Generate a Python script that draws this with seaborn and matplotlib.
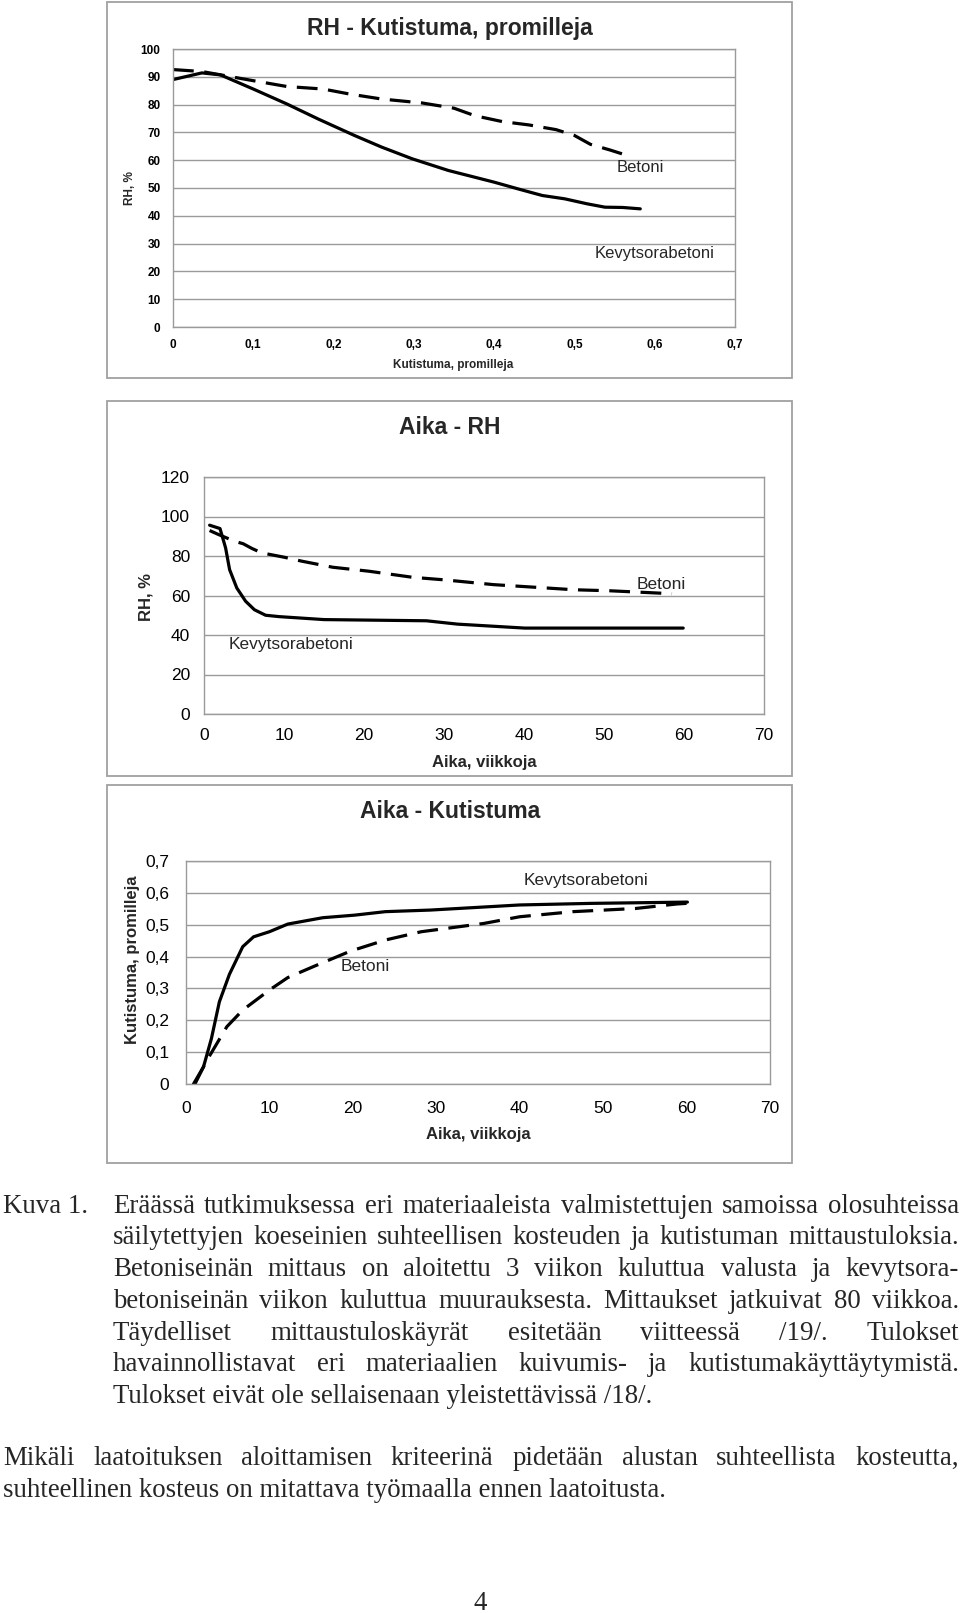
import numpy as np
import pandas as pd
import matplotlib
matplotlib.use('Agg')
import matplotlib.pyplot as plt
import seaborn as sns
from matplotlib.patches import Rectangle

# ---------------- data ----------------
# Panel 1: RH (%) vs shrinkage (promille)
p1_betoni_x = [0.0, 0.036, 0.1, 0.142, 0.187, 0.22, 0.26, 0.31, 0.35, 0.376, 0.41, 0.443, 0.477, 0.5, 0.52, 0.544, 0.569]
p1_betoni_y = [92.6, 91.9, 88.6, 86.5, 85.6, 83.8, 82.0, 80.6, 78.7, 76.0, 73.9, 72.7, 71.0, 68.9, 65.7, 63.7, 61.4]
p1_kevyt_x = [0.0, 0.036, 0.059, 0.1, 0.142, 0.181, 0.226, 0.26, 0.298, 0.343, 0.4, 0.432, 0.46, 0.488, 0.516, 0.538, 0.56, 0.582]
p1_kevyt_y = [89.0, 91.4, 90.7, 85.6, 80.2, 74.8, 68.9, 64.7, 60.5, 56.3, 52.1, 49.5, 47.3, 46.1, 44.3, 43.1, 43.0, 42.5]
p1_xticks = [0, 0.1, 0.2, 0.3, 0.4, 0.5, 0.6, 0.7]
p1_xticklabels = ['0', '0,1', '0,2', '0,3', '0,4', '0,5', '0,6', '0,7']
p1_yticks = [0, 10, 20, 30, 40, 50, 60, 70, 80, 90, 100]

# Panel 2: RH (%) vs time (weeks)
p2_betoni_x = [0.7, 1.8, 3.8, 4.9, 6.0, 7.2, 10.0, 12.2, 16.1, 20.6, 26.1, 30.1, 36.2, 40.1, 46.3, 50.7, 58.5]
p2_betoni_y = [92.9, 90.9, 87.5, 86.2, 83.8, 81.6, 79.4, 77.4, 74.3, 72.3, 69.2, 67.9, 65.5, 64.5, 62.9, 62.4, 60.9]
p2_kevyt_x = [0.7, 2.0, 2.7, 3.2, 4.1, 5.2, 6.3, 7.7, 9.4, 15.0, 27.8, 31.7, 40.1, 59.9]
p2_kevyt_y = [95.6, 93.9, 84.1, 73.1, 63.8, 57.1, 52.8, 50.0, 49.3, 47.8, 47.2, 45.5, 43.5, 43.5]
p2_xticks = [0, 10, 20, 30, 40, 50, 60, 70]
p2_yticks = [0, 20, 40, 60, 80, 100, 120]

# Panel 3: shrinkage (promille) vs time (weeks)
p3_kevyt_x = [0.9, 2.1, 3.05, 4.0, 5.2, 6.8, 8.1, 10.0, 12.2, 16.4, 20.2, 23.9, 29.3, 40.0, 48.6, 60.1]
p3_kevyt_y = [0.0, 0.054, 0.143, 0.258, 0.344, 0.431, 0.462, 0.478, 0.502, 0.522, 0.53, 0.541, 0.546, 0.562, 0.567, 0.571]
p3_betoni_x = [1.07, 2.5, 3.0, 4.9, 6.8, 10.0, 12.2, 15.4, 19.7, 23.9, 28.2, 35.7, 40.0, 46.4, 53.9, 58.8, 60.0]
p3_betoni_y = [0.0, 0.075, 0.096, 0.18, 0.232, 0.295, 0.334, 0.37, 0.417, 0.452, 0.478, 0.504, 0.525, 0.541, 0.551, 0.565, 0.567]
p3_xticks = [0, 10, 20, 30, 40, 50, 60, 70]
p3_yticks = [0, 0.1, 0.2, 0.3, 0.4, 0.5, 0.6, 0.7]
p3_yticklabels = ['0', '0,1', '0,2', '0,3', '0,4', '0,5', '0,6', '0,7']

caption_lines = [
    "Eräässä tutkimuksessa eri materiaaleista valmistettujen samoissa olosuhteissa",
    "säilytettyjen koeseinien suhteellisen kosteuden ja kutistuman mittaustuloksia.",
    "Betoniseinän mittaus on aloitettu 3 viikon kuluttua valusta ja kevytsora-",
    "betoniseinän viikon kuluttua muurauksesta. Mittaukset jatkuivat 80 viikkoa.",
    "Täydelliset mittaustuloskäyrät esitetään viitteessä /19/. Tulokset",
    "havainnollistavat eri materiaalien kuivumis- ja kutistumakäyttäytymistä.",
    "Tulokset eivät ole sellaisenaan yleistettävissä /18/.",
]
para2_lines = [
    "Mikäli laatoituksen aloittamisen kriteerinä pidetään alustan suhteellista kosteutta,",
    "suhteellinen kosteus on mitattava työmaalla ennen laatoitusta.",
]

# ---------------- style ----------------
sns.set_theme(style='white')
plt.rcParams['font.family'] = ['Liberation Sans', 'DejaVu Sans']
SANS = ['Liberation Sans', 'DejaVu Sans']
SERIF = ['Liberation Serif', 'DejaVu Serif']

W, H = 960, 1613
fig = plt.figure(figsize=(W / 100, H / 100), dpi=100)
fig.patch.set_facecolor('white')


def px_ax(x0, y0, x1, y1):
    return fig.add_axes([x0 / W, 1 - y1 / H, (x1 - x0) / W, (y1 - y0) / H])


def ftext(x, y, s, **kw):
    return fig.text(x / W, 1 - y / H, s, **kw)


def frame(y0, y1, x0=107, x1=792):
    fig.patches.append(Rectangle((x0 / W, 1 - y1 / H), (x1 - x0) / W, (y1 - y0) / H,
                                 transform=fig.transFigure, fill=False,
                                 edgecolor='#a0a0a0', lw=1.3, zorder=0))


LW = 2.3
DASH = (0, (6.5, 3.3))
GRID = '#9a9a9a'


def style_ax(ax, xlim, ylim, xticks, yticks, xlabels=None, ylabels=None,
             tick_size=12, bold=False, pad=4):
    ax.set_xlim(*xlim)
    ax.set_ylim(*ylim)
    ax.set_xticks(xticks)
    ax.set_yticks(yticks)
    ax.set_xticklabels(xlabels if xlabels else [str(v) for v in xticks])
    ax.set_yticklabels(ylabels if ylabels else [str(v) for v in yticks])
    for lab in ax.get_xticklabels() + ax.get_yticklabels():
        lab.set_fontsize(tick_size)
        lab.set_family(SANS)
        lab.set_fontweight('bold' if bold else 'normal')
        lab.set_color('black')
    ax.yaxis.grid(True, color=GRID, lw=1.0)
    ax.xaxis.grid(False)
    for sp in ax.spines.values():
        sp.set_color(GRID)
        sp.set_linewidth(1.0)
    ax.tick_params(axis='both', which='major', direction='out', length=4,
                   width=1.0, color=GRID, pad=pad)
    ax.set_xlabel('')
    ax.set_ylabel('')
    ax.set_facecolor('white')


# ---------------- Panel 1 ----------------
frame(2, 378)
ax1 = px_ax(173, 49, 735, 327)
sns.lineplot(x=p1_kevyt_x, y=p1_kevyt_y, ax=ax1, color='black', lw=LW, sort=False, estimator=None)
sns.lineplot(x=p1_betoni_x, y=p1_betoni_y, ax=ax1, color='black', lw=LW, sort=False,
             estimator=None, linestyle=DASH)
style_ax(ax1, (0, 0.7), (0, 100), p1_xticks, p1_yticks, xlabels=p1_xticklabels,
         tick_size=8.5, bold=True, pad=5)
ax1.text(0.582, 57.5, 'Betoni', ha='center', va='center', fontsize=12, family=SANS)
ax1.text(0.60, 26.6, 'Kevytsorabetoni', ha='center', va='center', fontsize=12, family=SANS)
ftext(450, 28, 'RH - Kutistuma, promilleja', ha='center', va='center', fontsize=16.5,
      fontweight='bold', family=SANS)
ftext(130, 188, 'RH, %', ha='center', va='center', rotation=90, fontsize=8.5, fontweight='bold')
ftext(453, 365, 'Kutistuma, promilleja', ha='center', va='center', fontsize=8.5, fontweight='bold')

# ---------------- Panel 2 ----------------
frame(401, 776)
ax2 = px_ax(204, 477, 764, 714)
sns.lineplot(x=p2_kevyt_x, y=p2_kevyt_y, ax=ax2, color='black', lw=LW, sort=False, estimator=None)
sns.lineplot(x=p2_betoni_x, y=p2_betoni_y, ax=ax2, color='black', lw=LW, sort=False,
             estimator=None, linestyle=DASH)
style_ax(ax2, (0, 70), (0, 120), p2_xticks, p2_yticks, tick_size=12.5, pad=6)
ax2.text(57.1, 65.5, 'Betoni', ha='center', va='center', fontsize=12.5, family=SANS)
ax2.text(10.9, 35.0, 'Kevytsorabetoni', ha='center', va='center', fontsize=12.5, family=SANS)
ftext(450, 427, 'Aika - RH', ha='center', va='center', fontsize=16.5, fontweight='bold', family=SANS)
ftext(146, 597, 'RH, %', ha='center', va='center', rotation=90, fontsize=12, fontweight='bold')
ftext(484, 763, 'Aika, viikkoja', ha='center', va='center', fontsize=12, fontweight='bold', family=SANS)

# ---------------- Panel 3 ----------------
frame(785, 1163)
ax3 = px_ax(186, 861, 770, 1084)
sns.lineplot(x=p3_kevyt_x, y=p3_kevyt_y, ax=ax3, color='black', lw=LW, sort=False, estimator=None)
sns.lineplot(x=p3_betoni_x, y=p3_betoni_y, ax=ax3, color='black', lw=LW, sort=False,
             estimator=None, linestyle=DASH)
style_ax(ax3, (0, 70), (0, 0.7), p3_xticks, p3_yticks, ylabels=p3_yticklabels,
         tick_size=12.5, pad=8)
ax3.text(48.0, 0.64, 'Kevytsorabetoni', ha='center', va='center', fontsize=12.5, family=SANS)
ax3.text(21.5, 0.368, 'Betoni', ha='center', va='center', fontsize=12.5, family=SANS)
ftext(450, 812, 'Aika - Kutistuma', ha='center', va='center', fontsize=16.5, fontweight='bold', family=SANS)
ftext(132, 960, 'Kutistuma, promilleja', ha='center', va='center', rotation=90, fontsize=12, fontweight='bold')
ftext(478, 1135, 'Aika, viikkoja', ha='center', va='center', fontsize=12, fontweight='bold', family=SANS)

# ---------------- Text ----------------
renderer = fig.canvas.get_renderer()
BODY = 19.4


def justified(words_line, x0, x1, y, justify=True):
    words = words_line.split()
    if not justify:
        ftext(x0, y, words_line, ha='left', va='baseline', fontsize=BODY, family=SERIF)
        return
    texts = [ftext(0, y, w, ha='left', va='baseline', fontsize=BODY, family=SERIF) for w in words]
    widths = [t.get_window_extent(renderer=renderer).width for t in texts]
    gap = (x1 - x0 - sum(widths)) / max(len(words) - 1, 1)
    x = x0
    for t, wdt in zip(texts, widths):
        t.set_x(x / W)
        x += wdt + gap


ftext(3, 1213, 'Kuva 1.', ha='left', va='baseline', fontsize=BODY, family=SERIF)
cap_y = [1213, 1244, 1276, 1308, 1340, 1371, 1403]
for i, (line, y) in enumerate(zip(caption_lines, cap_y)):
    justified(line, 113, 959, y, justify=(i < len(caption_lines) - 1))

p2_y = [1465, 1497]
for i, (line, y) in enumerate(zip(para2_lines, p2_y)):
    justified(line, 3, 959, y, justify=(i == 0))

ftext(480, 1610, '4', ha='center', va='baseline', fontsize=BODY, family=SERIF)

fig.savefig('out.png', dpi=100, facecolor='white')
